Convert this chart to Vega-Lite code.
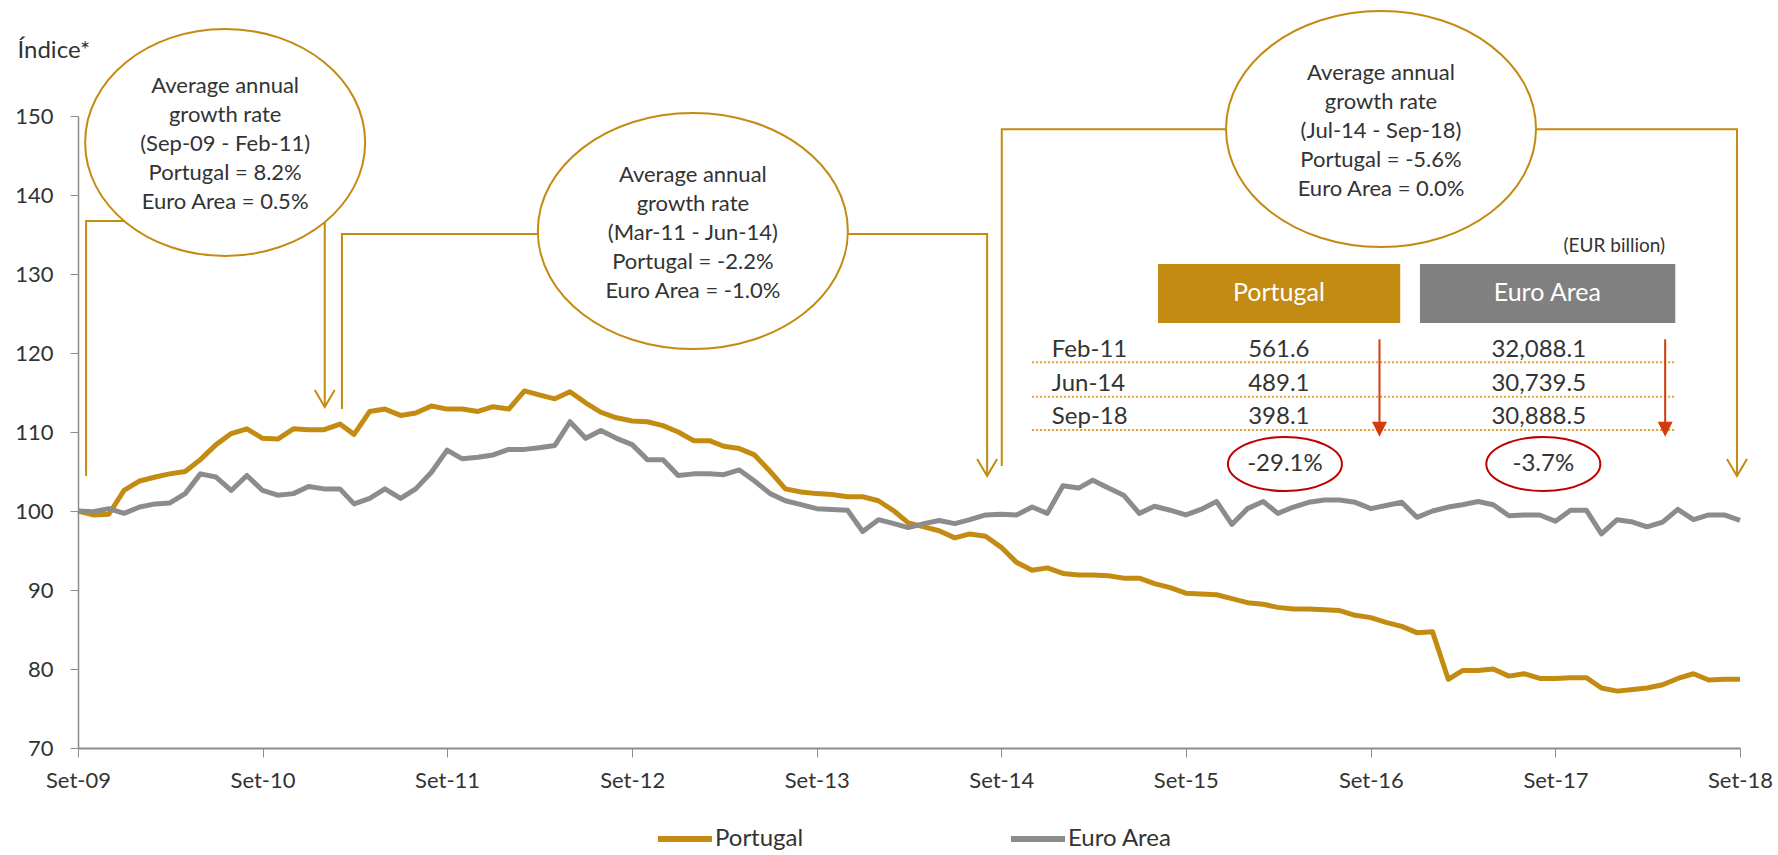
{
  "$schema": "https://vega.github.io/schema/vega-lite/v6.json",
  "width": 1662,
  "height": 632,
  "autosize": {"type": "none"},
  "padding": {"left": 78, "top": 116, "right": 38, "bottom": 107},
  "background": "white",
  "config": {
    "view": {"stroke": null},
    "font": "Lato",
    "axis": {"grid": false},
    "legend": {"padding": 0}
  },
  "datasets": {
    "series": [
      {"date": "2009-09-01", "Portugal": 100.0, "Euro Area": 100.0},
      {"date": "2009-10-01", "Portugal": 99.5, "Euro Area": 99.9},
      {"date": "2009-11-01", "Portugal": 99.6, "Euro Area": 100.3},
      {"date": "2009-12-01", "Portugal": 102.6, "Euro Area": 99.7},
      {"date": "2010-01-01", "Portugal": 103.8, "Euro Area": 100.5},
      {"date": "2010-02-01", "Portugal": 104.3, "Euro Area": 100.9},
      {"date": "2010-03-01", "Portugal": 104.7, "Euro Area": 101.0},
      {"date": "2010-04-01", "Portugal": 105.0, "Euro Area": 102.2},
      {"date": "2010-05-01", "Portugal": 106.5, "Euro Area": 104.7},
      {"date": "2010-06-01", "Portugal": 108.4, "Euro Area": 104.3},
      {"date": "2010-07-01", "Portugal": 109.8, "Euro Area": 102.6},
      {"date": "2010-08-01", "Portugal": 110.4, "Euro Area": 104.5},
      {"date": "2010-09-01", "Portugal": 109.2, "Euro Area": 102.6},
      {"date": "2010-10-01", "Portugal": 109.1, "Euro Area": 102.0},
      {"date": "2010-11-01", "Portugal": 110.4, "Euro Area": 102.2},
      {"date": "2010-12-01", "Portugal": 110.3, "Euro Area": 103.1},
      {"date": "2011-01-01", "Portugal": 110.3, "Euro Area": 102.8},
      {"date": "2011-02-01", "Portugal": 111.0, "Euro Area": 102.8},
      {"date": "2011-03-01", "Portugal": 109.7, "Euro Area": 100.9},
      {"date": "2011-04-01", "Portugal": 112.6, "Euro Area": 101.6},
      {"date": "2011-05-01", "Portugal": 112.9, "Euro Area": 102.8},
      {"date": "2011-06-01", "Portugal": 112.1, "Euro Area": 101.6},
      {"date": "2011-07-01", "Portugal": 112.4, "Euro Area": 102.8},
      {"date": "2011-08-01", "Portugal": 113.3, "Euro Area": 104.9},
      {"date": "2011-09-01", "Portugal": 112.9, "Euro Area": 107.7},
      {"date": "2011-10-01", "Portugal": 112.9, "Euro Area": 106.6},
      {"date": "2011-11-01", "Portugal": 112.6, "Euro Area": 106.8},
      {"date": "2011-12-01", "Portugal": 113.2, "Euro Area": 107.1},
      {"date": "2012-01-01", "Portugal": 112.9, "Euro Area": 107.8},
      {"date": "2012-02-01", "Portugal": 115.2, "Euro Area": 107.8},
      {"date": "2012-03-01", "Portugal": 114.7, "Euro Area": 108.0},
      {"date": "2012-04-01", "Portugal": 114.2, "Euro Area": 108.3},
      {"date": "2012-05-01", "Portugal": 115.1, "Euro Area": 111.3},
      {"date": "2012-06-01", "Portugal": 113.7, "Euro Area": 109.2},
      {"date": "2012-07-01", "Portugal": 112.5, "Euro Area": 110.2},
      {"date": "2012-08-01", "Portugal": 111.8, "Euro Area": 109.2},
      {"date": "2012-09-01", "Portugal": 111.4, "Euro Area": 108.4},
      {"date": "2012-10-01", "Portugal": 111.3, "Euro Area": 106.5},
      {"date": "2012-11-01", "Portugal": 110.8, "Euro Area": 106.5},
      {"date": "2012-12-01", "Portugal": 110.0, "Euro Area": 104.5},
      {"date": "2013-01-01", "Portugal": 108.9, "Euro Area": 104.7},
      {"date": "2013-02-01", "Portugal": 108.9, "Euro Area": 104.7},
      {"date": "2013-03-01", "Portugal": 108.2, "Euro Area": 104.6},
      {"date": "2013-04-01", "Portugal": 107.9, "Euro Area": 105.2},
      {"date": "2013-05-01", "Portugal": 107.1, "Euro Area": 103.8},
      {"date": "2013-06-01", "Portugal": 105.0, "Euro Area": 102.2},
      {"date": "2013-07-01", "Portugal": 102.8, "Euro Area": 101.3},
      {"date": "2013-08-01", "Portugal": 102.4, "Euro Area": 100.8},
      {"date": "2013-09-01", "Portugal": 102.2, "Euro Area": 100.3},
      {"date": "2013-10-01", "Portugal": 102.1, "Euro Area": 100.2},
      {"date": "2013-11-01", "Portugal": 101.8, "Euro Area": 100.1},
      {"date": "2013-12-01", "Portugal": 101.8, "Euro Area": 97.4},
      {"date": "2014-01-01", "Portugal": 101.3, "Euro Area": 98.9},
      {"date": "2014-02-01", "Portugal": 100.0, "Euro Area": 98.4},
      {"date": "2014-03-01", "Portugal": 98.5, "Euro Area": 97.9},
      {"date": "2014-04-01", "Portugal": 98.0, "Euro Area": 98.4},
      {"date": "2014-05-01", "Portugal": 97.5, "Euro Area": 98.8},
      {"date": "2014-06-01", "Portugal": 96.6, "Euro Area": 98.4},
      {"date": "2014-07-01", "Portugal": 97.1, "Euro Area": 98.9},
      {"date": "2014-08-01", "Portugal": 96.8, "Euro Area": 99.5},
      {"date": "2014-09-01", "Portugal": 95.4, "Euro Area": 99.6},
      {"date": "2014-10-01", "Portugal": 93.5, "Euro Area": 99.5},
      {"date": "2014-11-01", "Portugal": 92.5, "Euro Area": 100.5},
      {"date": "2014-12-01", "Portugal": 92.8, "Euro Area": 99.7},
      {"date": "2015-01-01", "Portugal": 92.1, "Euro Area": 103.2},
      {"date": "2015-02-01", "Portugal": 91.9, "Euro Area": 102.9},
      {"date": "2015-03-01", "Portugal": 91.9, "Euro Area": 103.9},
      {"date": "2015-04-01", "Portugal": 91.8, "Euro Area": 102.9},
      {"date": "2015-05-01", "Portugal": 91.5, "Euro Area": 102.0},
      {"date": "2015-06-01", "Portugal": 91.5, "Euro Area": 99.7},
      {"date": "2015-07-01", "Portugal": 90.8, "Euro Area": 100.6},
      {"date": "2015-08-01", "Portugal": 90.3, "Euro Area": 100.1},
      {"date": "2015-09-01", "Portugal": 89.6, "Euro Area": 99.5},
      {"date": "2015-10-01", "Portugal": 89.5, "Euro Area": 100.2},
      {"date": "2015-11-01", "Portugal": 89.4, "Euro Area": 101.2},
      {"date": "2015-12-01", "Portugal": 88.9, "Euro Area": 98.3},
      {"date": "2016-01-01", "Portugal": 88.4, "Euro Area": 100.3},
      {"date": "2016-02-01", "Portugal": 88.2, "Euro Area": 101.2},
      {"date": "2016-03-01", "Portugal": 87.8, "Euro Area": 99.7},
      {"date": "2016-04-01", "Portugal": 87.6, "Euro Area": 100.5},
      {"date": "2016-05-01", "Portugal": 87.6, "Euro Area": 101.1},
      {"date": "2016-06-01", "Portugal": 87.5, "Euro Area": 101.4},
      {"date": "2016-07-01", "Portugal": 87.4, "Euro Area": 101.4},
      {"date": "2016-08-01", "Portugal": 86.8, "Euro Area": 101.1},
      {"date": "2016-09-01", "Portugal": 86.5, "Euro Area": 100.3},
      {"date": "2016-10-01", "Portugal": 85.9, "Euro Area": 100.7},
      {"date": "2016-11-01", "Portugal": 85.4, "Euro Area": 101.1},
      {"date": "2016-12-01", "Portugal": 84.6, "Euro Area": 99.2},
      {"date": "2017-01-01", "Portugal": 84.7, "Euro Area": 100.0},
      {"date": "2017-02-01", "Portugal": 78.7, "Euro Area": 100.5},
      {"date": "2017-03-01", "Portugal": 79.8, "Euro Area": 100.8},
      {"date": "2017-04-01", "Portugal": 79.8, "Euro Area": 101.2},
      {"date": "2017-05-01", "Portugal": 80.0, "Euro Area": 100.8},
      {"date": "2017-06-01", "Portugal": 79.1, "Euro Area": 99.4},
      {"date": "2017-07-01", "Portugal": 79.4, "Euro Area": 99.5},
      {"date": "2017-08-01", "Portugal": 78.8, "Euro Area": 99.5},
      {"date": "2017-09-01", "Portugal": 78.8, "Euro Area": 98.7},
      {"date": "2017-10-01", "Portugal": 78.9, "Euro Area": 100.1},
      {"date": "2017-11-01", "Portugal": 78.9, "Euro Area": 100.1},
      {"date": "2017-12-01", "Portugal": 77.6, "Euro Area": 97.1},
      {"date": "2018-01-01", "Portugal": 77.2, "Euro Area": 98.9},
      {"date": "2018-02-01", "Portugal": 77.4, "Euro Area": 98.6},
      {"date": "2018-03-01", "Portugal": 77.6, "Euro Area": 98.0},
      {"date": "2018-04-01", "Portugal": 78.0, "Euro Area": 98.6},
      {"date": "2018-05-01", "Portugal": 78.8, "Euro Area": 100.2},
      {"date": "2018-06-01", "Portugal": 79.4, "Euro Area": 98.9},
      {"date": "2018-07-01", "Portugal": 78.6, "Euro Area": 99.5},
      {"date": "2018-08-01", "Portugal": 78.7, "Euro Area": 99.5},
      {"date": "2018-09-01", "Portugal": 78.7, "Euro Area": 98.8}
    ],
    "brackets": [
      {"id": "b1", "k": 1, "date": "2009-09-17", "value": 104.43},
      {"id": "b1", "k": 2, "date": "2009-09-17", "value": 136.71},
      {"id": "b1", "k": 3, "date": "2011-01-02", "value": 136.71},
      {"id": "b1", "k": 4, "date": "2011-01-02", "value": 113.2},
      {"id": "b2", "k": 1, "date": "2011-02-05", "value": 112.91},
      {"id": "b2", "k": 2, "date": "2011-02-05", "value": 135.06},
      {"id": "b2", "k": 3, "date": "2014-08-04", "value": 135.06},
      {"id": "b2", "k": 4, "date": "2014-08-04", "value": 104.5},
      {"id": "b3", "k": 1, "date": "2014-09-02", "value": 105.7},
      {"id": "b3", "k": 2, "date": "2014-09-02", "value": 148.32},
      {"id": "b3", "k": 3, "date": "2018-08-26", "value": 148.32},
      {"id": "b3", "k": 4, "date": "2018-08-26", "value": 104.5}
    ],
    "arrowheads": [
      {"date": "2011-01-02", "value": 113.16},
      {"date": "2014-08-04", "value": 104.43},
      {"date": "2018-08-26", "value": 104.43}
    ],
    "bubbles": [
      {"id": "e1", "date": "2010-06-19", "value": 146.65, "label": "Average annual\ngrowth rate\n(Sep-09 - Feb-11)\nPortugal = 8.2%\nEuro Area = 0.5%"},
      {"id": "e2", "date": "2012-12-30", "value": 135.44, "label": "Average annual\ngrowth rate\n(Mar-11 - Jun-14)\nPortugal = -2.2%\nEuro Area = -1.0%"},
      {"id": "e3", "date": "2016-09-21", "value": 148.35, "label": "Average annual\ngrowth rate\n(Jul-14 - Sep-18)\nPortugal = -5.6%\nEuro Area = 0.0%"}
    ],
    "boxes": [
      {"label": "Portugal", "date": "2015-07-08", "date2": "2016-10-29", "value": 131.27, "value2": 123.8, "mid": "2016-03-03", "midv": 127.59},
      {"label": "Euro Area", "date": "2016-12-07", "date2": "2018-04-26", "value": 131.27, "value2": 123.8, "mid": "2017-08-16", "midv": 127.59}
    ],
    "unit": [
      {"label": "(EUR billion)", "date": "2018-04-06", "value": 133.58}
    ],
    "rowlabels": [
      {"label": "Feb-11", "date": "2014-12-10", "value": 120.38},
      {"label": "Jun-14", "date": "2014-12-10", "value": 116.08},
      {"label": "Sep-18", "date": "2014-12-10", "value": 111.86}
    ],
    "cells": [
      {"label": "561.6", "date": "2016-03-03", "value": 120.38},
      {"label": "489.1", "date": "2016-03-03", "value": 116.08},
      {"label": "398.1", "date": "2016-03-03", "value": 111.86},
      {"label": "32,088.1", "date": "2017-07-30", "value": 120.38},
      {"label": "30,739.5", "date": "2017-07-30", "value": 116.08},
      {"label": "30,888.5", "date": "2017-07-30", "value": 111.86}
    ],
    "dots": [
      {"date": "2014-11-01", "date2": "2018-04-26", "value": 118.82},
      {"date": "2014-11-01", "date2": "2018-04-26", "value": 114.47},
      {"date": "2014-11-01", "date2": "2018-04-26", "value": 110.25}
    ],
    "redshafts": [
      {"date": "2016-09-18", "value": 121.73, "value2": 110.6},
      {"date": "2018-04-06", "value": 121.73, "value2": 110.6}
    ],
    "redheads": [
      {"date": "2016-09-18", "value": 109.41},
      {"date": "2018-04-06", "value": 109.41}
    ],
    "changes": [
      {"label": "-29.1%", "date": "2016-03-15", "value": 105.95},
      {"label": "-3.7%", "date": "2017-08-08", "value": 105.95}
    ]
  },
  "layer": [
    {
      "data": {"name": "brackets"},
      "mark": {"type": "line", "color": "#C38B11", "strokeWidth": 2},
      "encoding": {
        "x": {"field": "date", "type": "temporal"},
        "y": {"field": "value", "type": "quantitative"},
        "detail": {"field": "id"},
        "order": {"field": "k", "type": "quantitative"}
      }
    },
    {
      "data": {"name": "series"},
      "transform": [{"fold": ["Portugal", "Euro Area"], "as": ["series", "value"]}],
      "mark": {"type": "line", "strokeWidth": 5, "strokeJoin": "round"},
      "encoding": {
        "x": {
          "field": "date", "type": "temporal",
          "scale": {"type": "utc", "domain": [{"year": 2009, "month": 9, "date": 1, "utc": true}, {"year": 2018, "month": 9, "date": 1, "utc": true}]},
          "axis": {
            "title": null,
            "values": [
              {"year": 2009, "month": 9, "date": 1, "utc": true},
              {"year": 2010, "month": 9, "date": 1, "utc": true},
              {"year": 2011, "month": 9, "date": 1, "utc": true},
              {"year": 2012, "month": 9, "date": 1, "utc": true},
              {"year": 2013, "month": 9, "date": 1, "utc": true},
              {"year": 2014, "month": 9, "date": 1, "utc": true},
              {"year": 2015, "month": 9, "date": 1, "utc": true},
              {"year": 2016, "month": 9, "date": 1, "utc": true},
              {"year": 2017, "month": 9, "date": 1, "utc": true},
              {"year": 2018, "month": 9, "date": 1, "utc": true}
            ],
            "labelExpr": "'Set-' + utcFormat(datum.value, '%y')",
            "labelFont": "Lato", "labelFontSize": 22, "labelColor": "#333333",
            "labelPadding": 13, "labelFlush": false, "labelOverlap": false,
            "domainColor": "#8c8c8c", "domainWidth": 2,
            "tickColor": "#8c8c8c", "tickSize": 9, "tickWidth": 1
          }
        },
        "y": {
          "field": "value", "type": "quantitative",
          "scale": {"domain": [70, 150], "nice": false, "zero": false},
          "axis": {
            "title": "Índice*", "titleAngle": 0, "titleX": -61, "titleY": -59,
            "titleAlign": "left", "titleBaseline": "alphabetic",
            "titleFont": "Lato", "titleFontSize": 24, "titleFontWeight": "normal", "titleColor": "#333333",
            "values": [70, 80, 90, 100, 110, 120, 130, 140, 150],
            "labelFont": "Lato", "labelFontSize": 22, "labelColor": "#333333", "labelPadding": 17,
            "domainColor": "#8c8c8c", "domainWidth": 1.5,
            "tickColor": "#8c8c8c", "tickSize": 8
          }
        },
        "color": {
          "field": "series", "type": "nominal",
          "sort": ["Portugal", "Euro Area"],
          "scale": {"domain": ["Portugal", "Euro Area"], "range": ["#C38B11", "#8C8C8C"]},
          "legend": {
            "title": null, "orient": "none", "direction": "horizontal",
            "legendX": 577, "legendY": 693,
            "symbolType": "stroke", "symbolSize": 2916, "symbolStrokeWidth": 6,
            "labelFont": "Lato", "labelFontSize": 24, "labelColor": "#333333",
            "labelOffset": 0, "columnPadding": 195
          }
        }
      }
    },
    {
      "data": {"name": "arrowheads"},
      "mark": {"type": "point", "shape": "M-1,-1.7 L0,0 L1,-1.7", "size": 400, "filled": false, "stroke": "#C38B11", "strokeWidth": 2, "opacity": 1},
      "encoding": {
        "x": {"field": "date", "type": "temporal"},
        "y": {"field": "value", "type": "quantitative"}
      }
    },
    {
      "data": {"name": "bubbles"},
      "transform": [{"filter": "datum.id == 'e1'"}],
      "mark": {"type": "point", "shape": "M1,0 C1,0.4478 0.5523,0.8107 0,0.8107 C-0.5523,0.8107 -1,0.4478 -1,0 C-1,-0.4478 -0.5523,-0.8107 0,-0.8107 C0.5523,-0.8107 1,-0.4478 1,0 Z", "size": 78400, "fill": "white", "fillOpacity": 1, "stroke": "#C38B11", "strokeWidth": 2, "opacity": 1},
      "encoding": {
        "x": {"field": "date", "type": "temporal"},
        "y": {"field": "value", "type": "quantitative"}
      }
    },
    {
      "data": {"name": "bubbles"},
      "transform": [{"filter": "datum.id != 'e1'"}],
      "mark": {"type": "point", "shape": "M1,0 C1,0.4205 0.5523,0.7613 0,0.7613 C-0.5523,0.7613 -1,0.4205 -1,0 C-1,-0.4205 -0.5523,-0.7613 0,-0.7613 C0.5523,-0.7613 1,-0.4205 1,0 Z", "size": 96100, "fill": "white", "fillOpacity": 1, "stroke": "#C38B11", "strokeWidth": 2, "opacity": 1},
      "encoding": {
        "x": {"field": "date", "type": "temporal"},
        "y": {"field": "value", "type": "quantitative"}
      }
    },
    {
      "data": {"name": "bubbles"},
      "mark": {"type": "text", "lineBreak": "\n", "lineHeight": 29, "font": "Lato", "fontSize": 22, "color": "#333333", "align": "center", "baseline": "middle", "dy": -56},
      "encoding": {
        "x": {"field": "date", "type": "temporal"},
        "y": {"field": "value", "type": "quantitative"},
        "text": {"field": "label"}
      }
    },
    {
      "data": {"name": "boxes"},
      "mark": {"type": "rect"},
      "encoding": {
        "x": {"field": "date", "type": "temporal"},
        "x2": {"field": "date2"},
        "y": {"field": "value", "type": "quantitative"},
        "y2": {"field": "value2"},
        "color": {"condition": {"test": "datum.label == 'Portugal'", "value": "#C38B11"}, "value": "#808080"}
      }
    },
    {
      "data": {"name": "boxes"},
      "mark": {"type": "text", "font": "Lato", "fontSize": 25, "color": "white", "align": "center", "baseline": "middle"},
      "encoding": {
        "x": {"field": "mid", "type": "temporal"},
        "y": {"field": "midv", "type": "quantitative"},
        "text": {"field": "label"}
      }
    },
    {
      "data": {"name": "unit"},
      "mark": {"type": "text", "font": "Lato", "fontSize": 19, "color": "#333333", "align": "right", "baseline": "middle"},
      "encoding": {
        "x": {"field": "date", "type": "temporal"},
        "y": {"field": "value", "type": "quantitative"},
        "text": {"field": "label"}
      }
    },
    {
      "data": {"name": "dots"},
      "mark": {"type": "rule", "color": "#E0A030", "strokeWidth": 2, "strokeDash": [2, 2]},
      "encoding": {
        "x": {"field": "date", "type": "temporal"},
        "x2": {"field": "date2"},
        "y": {"field": "value", "type": "quantitative"}
      }
    },
    {
      "data": {"name": "rowlabels"},
      "mark": {"type": "text", "font": "Lato", "fontSize": 24, "color": "#333333", "align": "left", "baseline": "middle"},
      "encoding": {
        "x": {"field": "date", "type": "temporal"},
        "y": {"field": "value", "type": "quantitative"},
        "text": {"field": "label"}
      }
    },
    {
      "data": {"name": "cells"},
      "mark": {"type": "text", "font": "Lato", "fontSize": 24, "color": "#333333", "align": "center", "baseline": "middle"},
      "encoding": {
        "x": {"field": "date", "type": "temporal"},
        "y": {"field": "value", "type": "quantitative"},
        "text": {"field": "label"}
      }
    },
    {
      "data": {"name": "redshafts"},
      "mark": {"type": "rule", "color": "#D23C08", "strokeWidth": 2},
      "encoding": {
        "x": {"field": "date", "type": "temporal"},
        "y": {"field": "value", "type": "quantitative"},
        "y2": {"field": "value2"}
      }
    },
    {
      "data": {"name": "redheads"},
      "mark": {"type": "point", "shape": "M-1,-2 L1,-2 L0,0 Z", "size": 225, "filled": true, "color": "#D23C08", "opacity": 1},
      "encoding": {
        "x": {"field": "date", "type": "temporal"},
        "y": {"field": "value", "type": "quantitative"}
      }
    },
    {
      "data": {"name": "changes"},
      "mark": {"type": "point", "shape": "M1,0 C1,0.2616 0.5523,0.4737 0,0.4737 C-0.5523,0.4737 -1,0.2616 -1,0 C-1,-0.2616 -0.5523,-0.4737 0,-0.4737 C0.5523,-0.4737 1,-0.2616 1,0 Z", "size": 12996, "filled": false, "stroke": "#C00000", "strokeWidth": 2, "opacity": 1},
      "encoding": {
        "x": {"field": "date", "type": "temporal"},
        "y": {"field": "value", "type": "quantitative"}
      }
    },
    {
      "data": {"name": "changes"},
      "mark": {"type": "text", "font": "Lato", "fontSize": 24, "color": "#333333", "align": "center", "baseline": "middle"},
      "encoding": {
        "x": {"field": "date", "type": "temporal"},
        "y": {"field": "value", "type": "quantitative"},
        "text": {"field": "label"}
      }
    }
  ]
}
